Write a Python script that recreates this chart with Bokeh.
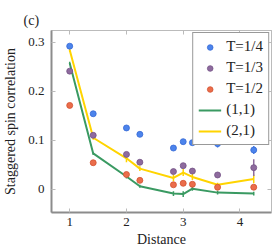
from bokeh.plotting import figure
from bokeh.models import (ColumnDataSource, Whisker, Legend, LegendItem, LinearAxis,
                          FixedTicker, Range1d)
from bokeh.embed import file_html
from bokeh.resources import INLINE

# ---- data ----
distance = [1.0, 1.414, 2.0, 2.236, 2.828, 3.0, 3.162, 3.606, 4.243]
t_quarter = [0.292, 0.154, 0.125, 0.112, 0.084, 0.097, 0.095, 0.093, 0.080]
t_quarter_err = [0.003, 0.003, 0.003, 0.003, 0.004, 0.004, 0.004, 0.008, 0.008]
t_third = [0.241, 0.110, 0.071, 0.055, 0.036, 0.048, 0.037, 0.029, 0.044]
t_third_err = [0.004, 0.004, 0.004, 0.004, 0.005, 0.005, 0.005, 0.005, 0.017]
t_half = [0.171, 0.054, 0.030, 0.018, 0.009, 0.012, 0.010, 0.004, 0.004]
t_half_err = [0.003, 0.003, 0.003, 0.003, 0.003, 0.003, 0.003, 0.003, 0.003]
line11 = [0.257, 0.073, 0.026, 0.006, -0.009, -0.010, 0.001, -0.007, -0.009]
line11_err = [0.003, 0.003, 0.004, 0.003, 0.005, 0.006, 0.004, 0.004, 0.004]
line21 = [0.284, 0.105, 0.063, 0.042, 0.023, 0.034, 0.025, 0.009, 0.021]
line21_err = [0.004, 0.004, 0.008, 0.005, 0.007, 0.007, 0.006, 0.004, 0.009]
x_ticks = [1, 2, 3, 4]
y_ticks = [0, 0.1, 0.2, 0.3]
y_tick_labels = {0: "0", 0.1: "0.1", 0.2: "0.2", 0.3: "0.3"}

FONT = "serif"
BLUE, BLUE_E = "#4C84EC", "#3568D4"
PURPLE, PURPLE_E = "#8E6B9E", "#735285"
ORANGE, ORANGE_E = "#EB6D4B", "#D2512F"
GREEN = "#3A9A62"
YELLOW = "#FFD400"

p = figure(width=272, height=251, output_backend="svg", toolbar_location=None,
           x_range=Range1d(0.679, 4.556), y_range=Range1d(-0.0476, 0.324),
           min_border_left=50, min_border_right=1, min_border_top=30,
           min_border_bottom=39, x_axis_label="Distance",
           y_axis_label="Staggered spin correlation", title="(c)")
p.outline_line_color = "#BBBBBB"
p.grid.visible = False
p.background_fill_color = "white"
p.border_fill_color = "white"

p.title.align = "left"
p.title.offset = -28
p.title.standoff = 6
p.title.text_font = FONT
p.title.text_font_size = "14px"
p.title.text_font_style = "normal"
p.title.text_color = "#222222"

for ax in (p.xaxis[0], p.yaxis[0]):
    ax.axis_line_color = "#8C8C8C"
    ax.axis_line_width = 2
    ax.major_tick_in = 4
    ax.major_tick_out = 0
    ax.major_tick_line_color = "#BBBBBB"
    ax.minor_tick_line_color = None
    ax.major_label_text_font = FONT
    ax.major_label_text_font_size = "13px"
    ax.major_label_text_color = "#222222"
    ax.axis_label_text_font = FONT
    ax.axis_label_text_font_size = "14px"
    ax.axis_label_text_font_style = "normal"
    ax.axis_label_text_color = "#222222"
p.xaxis[0].ticker = FixedTicker(ticks=x_ticks)
p.yaxis[0].ticker = FixedTicker(ticks=y_ticks)
p.yaxis[0].major_label_overrides = y_tick_labels
p.xaxis[0].major_label_standoff = 5
p.xaxis[0].axis_label_standoff = 3
p.yaxis[0].major_label_standoff = 7
p.yaxis[0].axis_label_standoff = 7

for loc, tk in (("above", x_ticks), ("right", y_ticks)):
    a = LinearAxis(ticker=FixedTicker(ticks=tk))
    a.major_label_overrides = {t: "" for t in tk}
    a.major_label_text_font_size = "1px"
    a.major_label_standoff = 0
    a.major_tick_in = 4
    a.major_tick_out = 0
    a.major_tick_line_color = "#BBBBBB"
    a.minor_tick_line_color = None
    a.axis_line_color = "#BBBBBB"
    p.add_layout(a, loc)

# lines with small error bars
src11 = ColumnDataSource(dict(x=distance, y=line11,
                              lo=[v - e for v, e in zip(line11, line11_err)],
                              hi=[v + e for v, e in zip(line11, line11_err)]))
src21 = ColumnDataSource(dict(x=distance, y=line21,
                              lo=[v - e for v, e in zip(line21, line21_err)],
                              hi=[v + e for v, e in zip(line21, line21_err)]))
r11 = p.line("x", "y", source=src11, line_color=GREEN, line_width=2)
r21 = p.line("x", "y", source=src21, line_color=YELLOW, line_width=2)
for s, c in ((src11, GREEN), (src21, YELLOW)):
    p.add_layout(Whisker(base="x", lower="lo", upper="hi", source=s, dimension="height",
                         line_color=c, line_width=1.5, upper_head=None, lower_head=None))

point_renderers = []
for vals, errs, fc, lc in ((t_quarter, t_quarter_err, BLUE, BLUE_E),
                           (t_third, t_third_err, PURPLE, PURPLE_E),
                           (t_half, t_half_err, ORANGE, ORANGE_E)):
    s = ColumnDataSource(dict(x=distance, y=vals,
                              lo=[v - e for v, e in zip(vals, errs)],
                              hi=[v + e for v, e in zip(vals, errs)]))
    p.add_layout(Whisker(base="x", lower="lo", upper="hi", source=s, dimension="height",
                         line_color=fc, line_width=1.5, upper_head=None, lower_head=None))
    r = p.scatter("x", "y", source=s, size=6, fill_color=fc, line_color=lc, line_width=0.8)
    point_renderers.append(r)

legend = Legend(items=[
    LegendItem(label="T=1/4", renderers=[point_renderers[0]]),
    LegendItem(label="T=1/3", renderers=[point_renderers[1]]),
    LegendItem(label="T=1/2", renderers=[point_renderers[2]]),
    LegendItem(label="(1,1)", renderers=[r11]),
    LegendItem(label="(2,1)", renderers=[r21]),
], location="top_right")
legend.margin = 2
legend.padding = 5
legend.spacing = 4
legend.glyph_width = 23
legend.glyph_height = 14
legend.label_height = 14
legend.label_standoff = 5
legend.label_text_font = FONT
legend.label_text_font_size = "15px"
legend.label_text_color = "#222222"
legend.border_line_color = "#333333"
legend.border_line_width = 1
legend.background_fill_alpha = 1
p.add_layout(legend, "center")

open("out.html", "w").write(file_html(p, INLINE))
